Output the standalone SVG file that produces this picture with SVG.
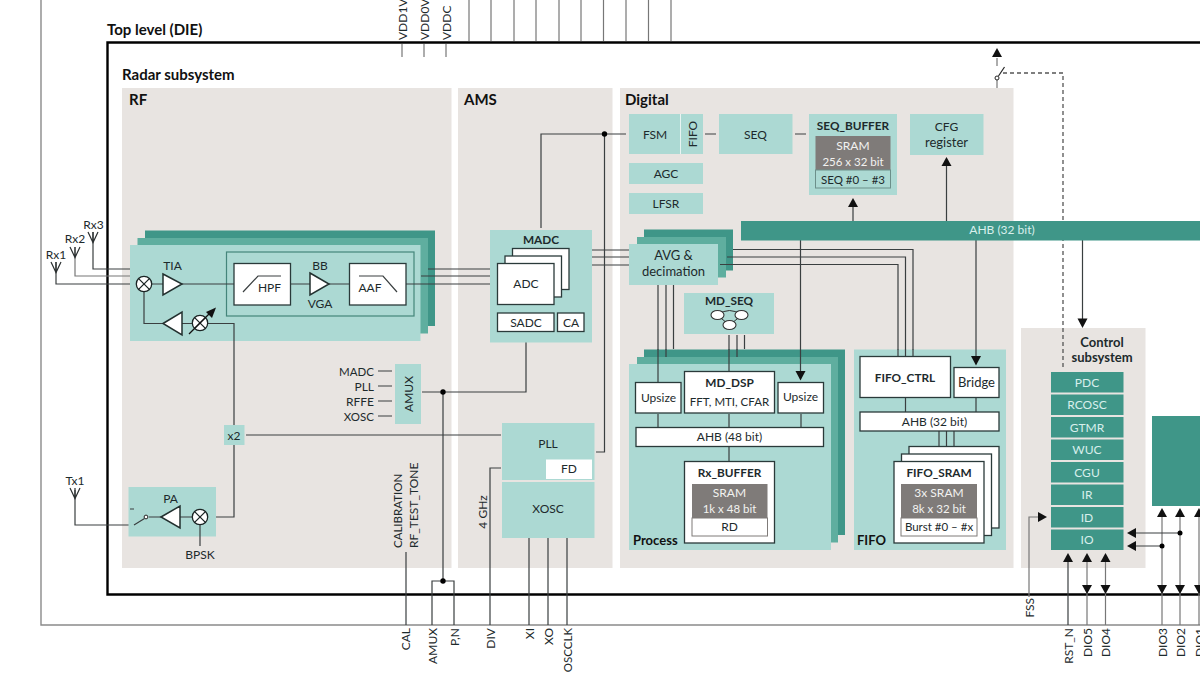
<svg xmlns="http://www.w3.org/2000/svg" width="1200" height="675" viewBox="0 0 1200 675">
<style>
text{font-family:Lato,"Noto Sans","Liberation Sans",sans-serif;font-size:12px;fill:#1d2a2c;text-anchor:middle;dominant-baseline:central}
.b{font-weight:700;font-size:11.800px}
.c{font-weight:700;font-size:13px}
.l{font-size:13px}
.n{font-size:11.500px}
.h{font-size:15px;font-weight:700;text-anchor:start;dominant-baseline:auto;fill:#111}
.s{font-size:13px;font-weight:700;text-anchor:start;dominant-baseline:auto;fill:#111}
.w{fill:#f2f2f0}
.lt{fill:#d8efec}
.r{text-anchor:end}
.pin{text-anchor:start;dominant-baseline:central}
.panel{fill:#e8e4e1}
.t1{fill:#acd9d3}
.t2{fill:#5fae9f}
.t3{fill:#3f9688}
.g{fill:#7f7b79}
.box{fill:#fff;stroke:#2a3a3a;stroke-width:1.3}
.ln{fill:none;stroke:#3a3f40;stroke-width:1.2}
.lg{fill:none;stroke:#777;stroke-width:1.2}
.tri{fill:#fff;stroke:#22302f;stroke-width:1.5}
.dash{fill:none;stroke:#555;stroke-width:1.3;stroke-dasharray:4 3}
.ah{fill:#111}
</style>
<defs>
<g id="mix"><circle r="7.700" fill="#fff" stroke="#1b2525" stroke-width="1.3"/><path d="M-5.400-5.400 5.400 5.400M5.400-5.400-5.400 5.400" stroke="#1b2525" stroke-width="1.3"/></g>
<path id="ant" d="M-5 0 0 10.500 5 0M0 0V11" fill="none" stroke="#2a2f30" stroke-width="1.2"/>
</defs>

<g id="frames">
<path d="M41 0V625H1200" fill="none" stroke="#8a8a8a" stroke-width="1.4"/>
<path d="M1200 42.500H107.500V594.500H1200" fill="none" stroke="#000" stroke-width="2.400"/>
<text class="h" x="107" y="35">Top level (DIE)</text>
<text class="h" x="122" y="80">Radar subsystem</text>
</g>

<g id="panels">
<rect class="panel" x="122" y="88" width="329.500" height="480"/>
<rect class="panel" x="458" y="88" width="154.500" height="480"/>
<rect class="panel" x="620" y="88" width="393.500" height="480"/>
<rect class="panel" x="1021" y="328" width="124.500" height="240"/>
<text class="h" x="129" y="105">RF</text>
<text class="h" x="464" y="105">AMS</text>
<text class="h" x="625" y="105">Digital</text>
</g>

<g id="connectors-back">
<path class="ln" d="M56 262V284H136"/>
<path class="lg" d="M75 247V276H130"/>
<path class="ln" d="M93 232V269H130"/>
<path class="ln" d="M75 490V525H135"/>
<path class="ln" d="M592 250H629M592 257H629M592 265H629"/>
<path class="ln" d="M658 285V382M666 285V357M673.500 285V349"/>
<path class="ln" d="M729 335V371M737 335V357M744.500 335V349"/>
<path class="dash" d="M1003 73H1063V369"/>
<path class="lg" d="M997 80V88M997 58V66"/>
</g>

<g id="rf">
<rect class="t3" x="145" y="230.500" width="290" height="95.500"/>
<rect class="t2" x="137.500" y="238" width="290.500" height="95.500"/>
<rect class="t1" x="130" y="245" width="290.500" height="96"/>
<rect x="226.500" y="252" width="187.500" height="64" fill="none" stroke="#44857b" stroke-width="1.2"/>
<path class="ln" d="M136 284H163M182 284H234M290 284H310M329 284H350M406 284H497M428 269H497M421 276H497"/>
<path class="ln" d="M144 292V323.500H163M182 323.500H192M208 323.500H234V425M234 445V517H208"/>
<g id="tia"><path class="tri" d="M163 274 182 284 163 295Z"/><text x="172.500" y="265">TIA</text></g>
<use href="#mix" x="144" y="284"/>
<path class="tri" d="M163 323.500 182 312V335Z"/>
<use href="#mix" x="200" y="323"/>
<path d="M189 334 209 314" stroke="#111" stroke-width="1.300"/>
<path class="ah" d="M216 307.500 212 318 206 312Z"/>
<rect class="box" x="234" y="263.500" width="56.500" height="41.500"/>
<rect class="box" x="349.500" y="263.500" width="56.500" height="41.500"/>
<path class="ln" d="M243 292 258 276H281"/>
<text x="269.500" y="287.500">HPF</text>
<path class="ln" d="M359 276H383L397 292"/>
<text x="370" y="287.500">AAF</text>
<path class="tri" d="M310 273 329 284 310 295Z"/>
<text x="320" y="265.500">BB</text>
<text x="320" y="303.500">VGA</text>
<g id="x2"><rect class="t1" x="224" y="425" width="20.500" height="20"/><text x="234" y="435">x2</text></g>
<g id="pa"><rect class="t1" x="128.500" y="487" width="87.500" height="49.500"/>
<text x="170.500" y="498">PA</text>
<path class="ln" d="M180 517H192M161 517H149"/>
<path class="tri" d="M161 517 180 506V528Z"/>
<use href="#mix" x="200" y="517"/>
<circle cx="146" cy="517" r="1.900" fill="#fff" stroke="#222" stroke-width="1"/>
<path class="ln" d="M144.500 518.500 134 525M130 509H134"/>
</g>
<path class="ln" d="M200 525V546"/>
<text x="200" y="554">BPSK</text>
<use href="#ant" x="56" y="262"/><text x="56" y="254">Rx1</text>
<use href="#ant" x="75" y="247"/><text x="75" y="238">Rx2</text>
<use href="#ant" x="93" y="232"/><text x="93.500" y="224">Rx3</text>
<use href="#ant" x="75" y="488"/><text x="75" y="480">Tx1</text>
</g>

<g id="amux">
<rect class="t1" x="395" y="364" width="26" height="60"/>
<text transform="translate(408 394) rotate(-90)">AMUX</text>
<text class="r n" x="374" y="371">MADC</text>
<text class="r" x="374" y="386">PLL</text>
<text class="r" x="374" y="401">RFFE</text>
<text class="r n" x="374" y="416">XOSC</text>
<path class="ln" d="M378 371H392M378 386H392M378 401H392M378 416H392"/>
</g>

<g id="connectors-mid">
<path class="ln" d="M422 392H526V332"/>
<path class="ln" d="M443 392V581M432 625V581H454V625"/>
<circle cx="443" cy="392" r="2.700"/><circle cx="443" cy="581" r="2.700"/>
<path class="ln" d="M246 435H501"/>
<path class="ln" d="M406 552V625"/>
<path class="ln" d="M490 625V468H501"/>
<path class="ln" d="M529 538V625M548 538V625M567 538V625"/>
<path class="ln" d="M596 452H604.500V134M541 228V134H626"/>
<circle cx="604.500" cy="134" r="2.700"/>
<path class="ln" d="M705 134H716M795 134H806"/>
</g>
<text transform="translate(397 548) rotate(-90)" class="pin n">CALIBRATION</text>
<text transform="translate(413.500 548) rotate(-90)" class="pin">RF_TEST_TONE</text>
<text transform="translate(482 512) rotate(-90)">4 GHz</text>

<g id="madc">
<rect class="t1" x="490" y="230" width="102" height="112.500"/>
<text class="b" x="541" y="239">MADC</text>
<rect class="box" x="512.500" y="248.500" width="56.500" height="41"/>
<rect class="box" x="505" y="256" width="56.500" height="41"/>
<rect class="box" x="497.500" y="263.500" width="56.500" height="41"/>
<text x="526" y="283.500">ADC</text>
<rect class="box" x="497.500" y="313" width="56.500" height="18.500"/><text x="526" y="322">SADC</text>
<rect class="box" x="557.500" y="313" width="26.500" height="18.500"/><text x="571" y="322">CA</text>
</g>

<g id="pll"><rect class="t1" x="502" y="423" width="92.500" height="57"/><text x="548" y="443">PLL</text>
<rect x="546" y="459.500" width="46" height="19.500" fill="#fff"/><text x="569" y="468.500">FD</text></g>
<g id="xosc"><rect class="t1" x="502" y="482" width="92.500" height="56"/><text x="548" y="508">XOSC</text></g>

<g id="fsm"><rect class="t1" x="629" y="114" width="74" height="40"/><path d="M680.500 114V154" stroke="#e8f4f2" stroke-width="1"/>
<text x="655" y="134">FSM</text><text transform="translate(692 134) rotate(-90)">FIFO</text></g>
<g id="seq"><rect class="t1" x="719" y="114" width="73.500" height="40"/><text x="755.500" y="134">SEQ</text></g>
<g id="agc"><rect class="t1" x="629" y="163" width="74" height="21"/><text x="666" y="173">AGC</text></g>
<g id="lfsr"><rect class="t1" x="629" y="193" width="74" height="21"/><text x="666" y="203">LFSR</text></g>
<g id="seqbuf"><rect class="t1" x="809" y="114" width="88" height="81"/><text class="b" x="853" y="125">SEQ_BUFFER</text>
<rect class="g" x="815.500" y="136" width="75" height="34"/><text class="w" x="853" y="145">SRAM</text><text class="w n" x="853" y="161">256 x 32 bit</text>
<rect x="815.500" y="170" width="75" height="18" fill="#acd9d3" stroke="#6c8f8a" stroke-width="1"/><text class="n" x="853" y="179">SEQ #0 – #3</text></g>
<g id="cfg"><rect class="t1" x="910" y="114" width="73.500" height="41"/><text x="946.500" y="126">CFG</text><text class="l" x="946.500" y="142">register</text></g>

<g id="avg">
<rect class="t3" x="644" y="229.500" width="89" height="41"/>
<rect class="t2" x="637" y="237" width="89" height="40.500"/>
<rect class="t1" x="629" y="244" width="89" height="41"/>
<text class="l" x="673.500" y="255">AVG &amp;</text><text class="l" x="673.500" y="271">decimation</text>
<path class="ln" d="M733 249.500H913V356M727 257H905.500V356M720 264.500H898V356"/>
</g>

<g id="mdseq"><rect class="t1" x="684" y="293" width="90" height="41"/><text class="b" x="729" y="300.500">MD_SEQ</text>
<path d="M717 315Q729.500 306 742 315L729.500 325Z" fill="none" stroke="#333" stroke-width="1"/>
<ellipse cx="717.500" cy="315" rx="6.500" ry="4.500" fill="#fff" stroke="#333" stroke-width="1.100"/>
<ellipse cx="741.500" cy="315" rx="6.500" ry="4.500" fill="#fff" stroke="#333" stroke-width="1.100"/>
<ellipse cx="729.500" cy="325" rx="6.500" ry="4.500" fill="#fff" stroke="#333" stroke-width="1.100"/></g>

<g id="process">
<rect class="t3" x="644" y="349.500" width="201" height="185.500"/>
<path class="ln" d="M666 349V357M737 349V357"/>
<rect class="t2" x="637" y="357" width="201" height="185.500"/>
<rect class="t1" x="629" y="364" width="202" height="186"/>
<path class="ln" d="M658 349V382M729 349V372"/>
<path class="ln" d="M658 414V427M729 414V427M801 414V427M729 447V461"/>
<rect class="box" x="635.500" y="382.500" width="45.500" height="30.500"/><text x="658.500" y="397">Upsize</text>
<rect class="box" x="684.500" y="371.500" width="90" height="41.500"/><text class="b" x="729.500" y="382">MD_DSP</text><text class="n" x="729.500" y="401">FFT, MTI, CFAR</text>
<rect class="box" x="778" y="382.500" width="45.500" height="30.500"/><text x="800.500" y="396.500">Upsize</text>
<rect class="box" x="636" y="427.500" width="187.500" height="19"/><text x="729.500" y="436.500">AHB (48 bit)</text>
<rect class="box" x="684.500" y="461.500" width="90" height="81.500"/><text class="b" x="729.500" y="472">Rx_BUFFER</text>
<rect class="g" x="692" y="484" width="75.500" height="34"/><text class="w" x="729.500" y="492">SRAM</text><text class="w n" x="729.500" y="508">1k x 48 bit</text>
<rect x="692" y="518" width="75.500" height="18" fill="#fff" stroke="#7f7b79" stroke-width="1"/><text x="729.500" y="526.500">RD</text>
<text class="s" x="633" y="545">Process</text>
</g>

<g id="fifo">
<rect class="t1" x="854" y="349.500" width="152" height="200.500"/>
<path class="ln" d="M898 349V356M905.500 349V356M913 349V356"/>
<path class="ln" d="M905.500 397V412M976 397V412M939 431V461M946.500 431V454M954 431V446.500"/>
<rect class="box" x="860" y="356.500" width="90.500" height="41"/><text class="b" x="905" y="377">FIFO_CTRL</text>
<rect class="box" x="954" y="367.500" width="45" height="30"/><text class="l" x="976.500" y="382">Bridge</text>
<rect class="box" x="860" y="412" width="139" height="19"/><text x="934.500" y="421">AHB (32 bit)</text>
<rect class="box" x="909" y="446.500" width="90" height="81.500"/>
<rect class="box" x="901.500" y="454" width="90" height="81.500"/>
<rect class="box" x="894" y="461.500" width="90" height="81.500"/>
<text class="b" x="939" y="472">FIFO_SRAM</text>
<rect class="g" x="901" y="484" width="76" height="34"/><text class="w" x="939" y="492">3x SRAM</text><text class="w n" x="939" y="508">8k x 32 bit</text>
<rect x="901" y="518" width="76" height="18" fill="#fff" stroke="#7f7b79" stroke-width="1"/><text class="n" x="939" y="526.500">Burst #0 – #x</text>
<text class="s" x="857" y="545">FIFO</text>
</g>

<g id="connectors-ahb">
<path class="ln" d="M853 207V221M946.500 166V221M800.500 240V372M976 240V357M1082.500 240V319"/>
</g>
<g id="ahb"><rect class="t3" x="741" y="221" width="459" height="19.500"/><text class="lt" x="1002" y="229.500">AHB (32 bit)</text></g>
<g id="arrows" class="ah">
<path d="M853 198 848 207H858Z"/><path d="M946.500 157 941.500 166H951.500Z"/><path d="M997 48 992 57H1002Z"/>
<path d="M800.500 380.500 795.500 371H805.500Z"/><path d="M976 365.500 971 356H981Z"/><path d="M1082.500 328 1077.500 318.500H1087.500Z"/>
</g>
<path d="M998.500 76 1004.500 67" stroke="#222" stroke-width="1.200"/>
<circle cx="997" cy="78" r="2" fill="#fff" stroke="#222" stroke-width="1"/>

<g id="control">
<text class="c" x="1102" y="342">Control</text><text class="c" x="1102" y="356.500">subsystem</text>
<g id="pdc"><rect class="t3" x="1051" y="372" width="72.500" height="20.500"/><text class="lt" x="1087" y="382.500">PDC</text></g>
<g id="rcosc"><rect class="t3" x="1051" y="394.500" width="72.500" height="20.500"/><text class="lt" x="1087" y="404.500">RCOSC</text></g>
<g id="gtmr"><rect class="t3" x="1051" y="417" width="72.500" height="20.500"/><text class="lt" x="1087" y="427">GTMR</text></g>
<g id="wuc"><rect class="t3" x="1051" y="439.500" width="72.500" height="20.500"/><text class="lt" x="1087" y="449.500">WUC</text></g>
<g id="cgu"><rect class="t3" x="1051" y="462" width="72.500" height="20.500"/><text class="lt" x="1087" y="472">CGU</text></g>
<g id="ir"><rect class="t3" x="1051" y="484.500" width="72.500" height="20.500"/><text class="lt" x="1087" y="494.500">IR</text></g>
<g id="id"><rect class="t3" x="1051" y="507" width="72.500" height="20.500"/><text class="lt" x="1087" y="517">ID</text></g>
<g id="io"><rect class="t3" x="1051" y="529.500" width="72.500" height="20.500"/><text class="lt" x="1087" y="539.500">IO</text></g>
</g>
<rect id="block" class="t3" x="1152" y="416" width="48" height="90"/>

<g id="connectors-io">
<path class="lg" d="M1029 597V517H1038"/>
<path class="ln" d="M1068 562V625"/>
<path class="lg" d="M1087 562V625M1105.500 562V625M1162 517V625M1180 517V625M1199 517V625"/>
<path class="ln" d="M1136 533H1180M1136 546H1162"/>
<circle cx="1180" cy="533" r="2.500"/><circle cx="1162" cy="546" r="2.500"/>
<g class="ah">
<path d="M1047 517 1038 512V522Z"/>
<path d="M1068 553 1063 562H1073Z"/><path d="M1087 553 1082 562H1092Z"/><path d="M1105.500 553 1100.500 562H1110.500Z"/>
<path d="M1087 594 1082 585H1092Z"/><path d="M1105.500 594 1100.500 585H1110.500Z"/>
<path d="M1162 508 1157 517H1167Z"/><path d="M1180 508 1175 517H1185Z"/><path d="M1199 508 1194 517H1204Z"/>
<path d="M1162 594 1157 585H1167Z"/><path d="M1180 594 1175 585H1185Z"/><path d="M1199 594 1194 585H1204Z"/>
<path d="M1127 533 1136 528V538Z"/><path d="M1127 546 1136 541V551Z"/>
</g>
</g>

<g id="pins">
<path class="lg" d="M402 44V57M424 44V57M446 44V57M469 0V41M491 0V41M514 0V41M536 0V41M559 0V41M581 0V41M603.500 0V41M626 0V41M648.500 0V41M671 0V41"/>
<text class="pin" transform="translate(402 40) rotate(-90)">VDD1V5</text>
<text class="pin" transform="translate(424 40) rotate(-90)">VDD0V9</text>
<text class="pin" transform="translate(446 40) rotate(-90)">VDDC</text>
<text class="r" transform="translate(405 628) rotate(-90)">CAL</text>
<text class="r" transform="translate(432 628) rotate(-90)">AMUX</text>
<text class="r" transform="translate(454 628) rotate(-90)">P,N</text>
<text class="r" transform="translate(490 628) rotate(-90)">DIV</text>
<text class="r" transform="translate(529 628) rotate(-90)">XI</text>
<text class="r" transform="translate(548 628) rotate(-90)">XO</text>
<text class="r n" transform="translate(567 628) rotate(-90)">OSCCLK</text>
<text class="r" transform="translate(1029 598) rotate(-90)">FSS</text>
<text class="r" transform="translate(1068 628) rotate(-90)">RST_N</text>
<text class="r" transform="translate(1087 628) rotate(-90)">DIO5</text>
<text class="r" transform="translate(1105.500 628) rotate(-90)">DIO4</text>
<text class="r" transform="translate(1162 628) rotate(-90)">DIO3</text>
<text class="r" transform="translate(1180 628) rotate(-90)">DIO2</text>
<text class="r" transform="translate(1199 628) rotate(-90)">DIO1</text>
</g>
</svg>
